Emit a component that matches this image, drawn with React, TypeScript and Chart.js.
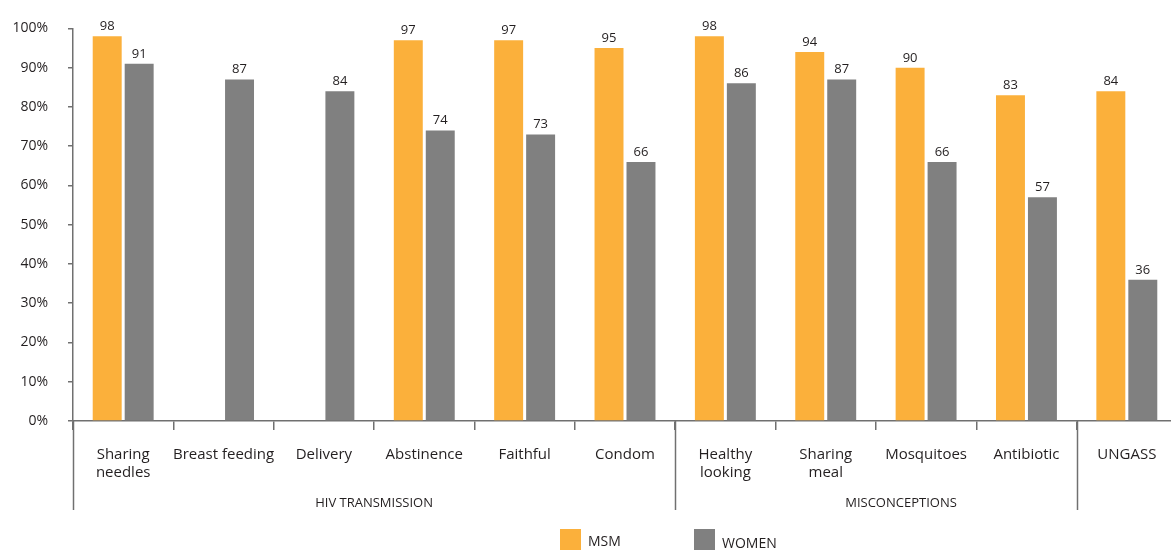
import React, { useEffect, useRef } from "react";
import { Chart, registerables } from "chart.js";

Chart.register(...registerables);

const categories: (string | string[])[] = [
  ["Sharing", "needles"],
  "Breast feeding",
  "Delivery",
  "Abstinence",
  "Faithful",
  "Condom",
  ["Healthy", "looking"],
  ["Sharing", "meal"],
  "Mosquitoes",
  "Antibiotic",
  "UNGASS",
];

const msmValues: (number | null)[] = [98, null, null, 97, 97, 95, 98, 94, 90, 83, 84];
const womenValues: number[] = [91, 87, 84, 74, 73, 66, 86, 87, 66, 57, 36];

const seriesNames = ["MSM", "WOMEN"];
const seriesColors = ["#FBB03B", "#808080"];

const yTickValues = [0, 10, 20, 30, 40, 50, 60, 70, 80, 90, 100];

const groupLabels = ["HIV TRANSMISSION", "MISCONCEPTIONS"];
const groupCenters = [2.5, 7.75];
const groupDividers = [-0.5, 5.5, 9.5];

const FONT = "'Open Sans', 'Noto Sans', sans-serif";
const TEXT = "#231F20";
const AXIS = "#707070";

const extrasPlugin = {
  id: "extras",
  afterDatasetsDraw(chart: any) {
    const ctx = chart.ctx;
    ctx.save();
    ctx.font = `13px ${FONT}`;
    ctx.fillStyle = TEXT;
    ctx.textAlign = "center";
    ctx.textBaseline = "alphabetic";
    chart.data.datasets.forEach((ds: any, i: number) => {
      const meta = chart.getDatasetMeta(i);
      meta.data.forEach((bar: any, j: number) => {
        const v = ds.data[j];
        if (v === null || v === undefined) return;
        ctx.fillText(String(v), bar.x, bar.y - 6);
      });
    });
    ctx.restore();
  },
  afterDraw(chart: any) {
    const ctx = chart.ctx;
    const x = chart.scales.x;
    const area = chart.chartArea;
    ctx.save();
    // long dividers
    ctx.strokeStyle = AXIS;
    ctx.lineWidth = 1.5;
    groupDividers.forEach((d) => {
      const px = Math.round(x.getPixelForValue(d)) + 0.5;
      ctx.beginPath();
      ctx.moveTo(px, area.bottom);
      ctx.lineTo(px, 510);
      ctx.stroke();
    });
    // group labels
    ctx.font = `13px ${FONT}`;
    ctx.fillStyle = TEXT;
    ctx.textAlign = "center";
    ctx.textBaseline = "middle";
    groupLabels.forEach((g, i) => {
      ctx.fillText(g, x.getPixelForValue(groupCenters[i]), 503);
    });
    // legend
    const legendX = [560, 694];
    ctx.textAlign = "left";
    ctx.font = `14px ${FONT}`;
    seriesNames.forEach((name, i) => {
      ctx.fillStyle = seriesColors[i];
      ctx.fillRect(legendX[i], 529, 21, 21);
      ctx.fillStyle = TEXT;
      ctx.textBaseline = "alphabetic";
      ctx.fillText(name, legendX[i] + 28, 546 + i * 2);
    });
    ctx.restore();
  },
};

export default function App() {
  const ref = useRef<HTMLCanvasElement | null>(null);
  useEffect(() => {
    if (!ref.current) return;
    const chart = new Chart(ref.current, {
      type: "bar",
      data: {
        labels: categories as any,
        datasets: [
          {
            label: seriesNames[0],
            data: msmValues,
            backgroundColor: seriesColors[0],
            categoryPercentage: 0.637,
            barPercentage: 0.906,
          },
          {
            label: seriesNames[1],
            data: womenValues,
            backgroundColor: seriesColors[1],
            categoryPercentage: 0.637,
            barPercentage: 0.906,
          },
        ],
      },
      options: {
        responsive: false,
        animation: false,
        layout: { padding: { top: 28, right: 3, left: 0, bottom: 0 } },
        plugins: {
          legend: { display: false },
          tooltip: { enabled: false },
        },
        scales: {
          x: {
            grid: {
              drawOnChartArea: false,
              drawTicks: true,
              tickLength: 9,
              color: AXIS,
              lineWidth: 1.5,
            },
            border: { display: true, color: AXIS, width: 1.5 },
            ticks: {
              font: { family: FONT, size: 15 },
              color: TEXT,
              padding: 16,
              maxRotation: 0,
              autoSkip: false,
            },
            afterFit(scale: any) {
              scale.height = 129;
            },
          },
          y: {
            min: 0,
            max: 100,
            afterBuildTicks(scale: any) {
              scale.ticks = yTickValues.map((v) => ({ value: v }));
            },
            grid: {
              drawOnChartArea: false,
              drawTicks: true,
              tickLength: 5,
              color: AXIS,
              lineWidth: 1.5,
            },
            border: { display: true, color: AXIS, width: 1.5 },
            ticks: {
              font: { family: FONT, size: 14 },
              color: TEXT,
              padding: 20,
              callback: (v: any) => `${v}%`,
            },
            afterFit(scale: any) {
              scale.width = 73;
            },
          },
        },
      },
      plugins: [extrasPlugin],
    });
    return () => chart.destroy();
  }, []);
  return (
    <div style={{ position: "absolute", left: 0, top: 0, width: 1171, height: 550, overflow: "hidden", background: "#fff" }}>
      <canvas ref={ref} width={1180} height={550} style={{ display: "block", width: 1180, height: 550 }} />
    </div>
  );
}
